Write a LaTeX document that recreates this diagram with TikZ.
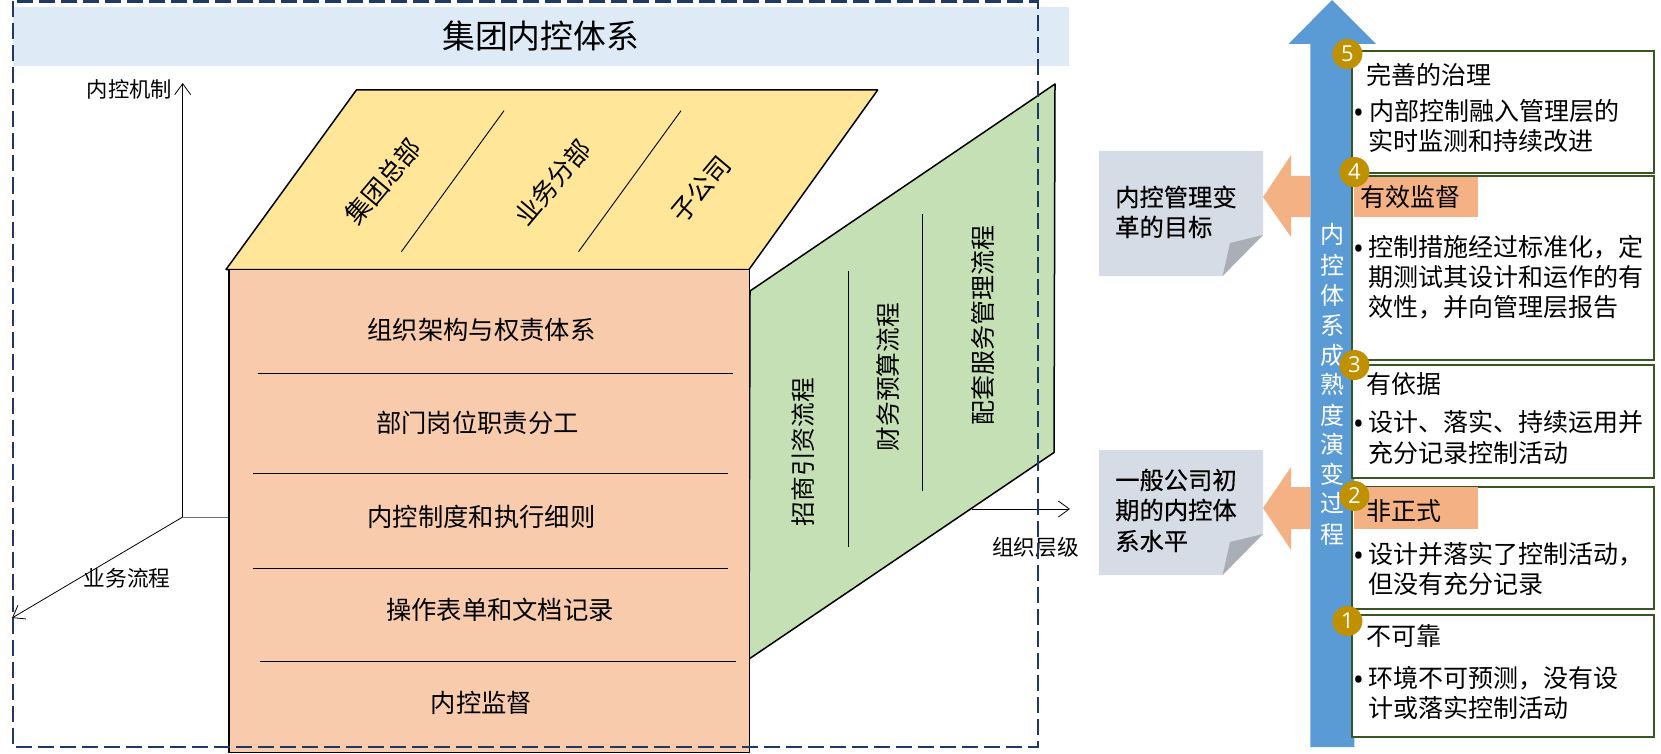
\documentclass[tikz,border=0pt]{standalone}
\usepackage{fontspec}
\setmainfont{Noto Sans CJK SC}
\newfontfamily\numfont{Open Sans}
\newfontfamily\notefont[FakeBold=0.35]{Noto Sans CJK SC}
\usetikzlibrary{arrows.meta}
\definecolor{framenavy}{RGB}{31, 56, 100}
\definecolor{titleblue}{RGB}{222, 234, 246}
\definecolor{topyellow}{RGB}{255, 230, 153}
\definecolor{frontpeach}{RGB}{247, 203, 172}
\definecolor{sidegreen}{RGB}{197, 224, 180}
\definecolor{bandorange}{RGB}{244, 177, 131}
\definecolor{shaftblue}{RGB}{91, 155, 213}
\definecolor{markgold}{RGB}{191, 144, 0}
\definecolor{boxgreen}{RGB}{56, 87, 35}
\definecolor{notegrey}{RGB}{214, 220, 229}
\definecolor{foldgrey}{RGB}{170, 174, 183}
\tikzset{
  zh/.style={
    inner sep=0pt,
    font=\fontsize{#1}{#1}\selectfont,
    text height=#1*0.88pt,
    text depth=#1*0.12pt
  },
  note text/.style={
    anchor=west,
    inner sep=0pt,
    font=\fontsize{24.3}{24.3}\notefont,
    text height=21.4pt,
    text depth=2.9pt
  },
  box text/.style={zh=25, anchor=west},
  bullet/.style={
    inner sep=0pt,
    font=\fontsize{30}{30}\numfont
  },
  level box/.style={
    draw=boxgreen,
    line width=2pt,
    fill=white,
    inner sep=0pt,
    minimum width=301.6pt
  },
  level mark/.style={
    circle,
    fill=markgold,
    text=white,
    inner sep=0pt,
    minimum size=30pt,
    font=\fontsize{22}{22}\numfont
  },
  band/.style={
    fill=bandorange,
    inner sep=0pt,
    minimum width=123.6pt
  },
  solid face/.style={
    draw=black,
    line width=1.5pt,
    line join=round
  },
  rule/.style={
    draw=black,
    line width=0.9pt
  },
  axis/.style={
    draw=black,
    line width=0.8pt,
    -{Straight Barb[length=11pt,width=16pt]}
  }
}
\begin{document}
\begin{tikzpicture}[x=1pt, y=-1pt]
  \useasboundingbox (0, 0) rectangle (1661, 754);

  \node[fill=titleblue, inner sep=0pt, minimum width=1056pt, minimum height=59pt] (titleband) at (541, 36.5) {};
  \node[zh=32.8] (title) at (540.7, 36.5) {集团内控体系};

  % axes
  \coordinate (origin) at (182.7, 517);
  \coordinate (mechtop) at (182.7, 83);
  \coordinate (flowend) at (12, 618);
  \coordinate (stubend) at (229, 517);
  \coordinate (levelstart) at (971.7, 509);
  \coordinate (levelend) at (1070, 509);
  \draw[axis] (origin) -- (mechtop);
  \draw[axis] (origin) -- (flowend);
  \draw[draw=black!55, line width=0.8pt] (origin) -- (stubend);
  \node[zh=21.3] (mechlabel) at (129.5, 89) {内控机制};
  \node[zh=21.7] (flowlabel) at (127, 578) {业务流程};

  % side face
  \coordinate (g1) at (750, 291);
  \coordinate (g2) at (1055, 84);
  \coordinate (g3) at (1054, 452.5);
  \coordinate (g4) at (749, 659);
  \draw[solid face, fill=sidegreen] (g1) -- (g2) -- (g3) -- (g4) -- cycle;
  \draw[axis] (levelstart) -- (levelend);
  \node[zh=21.7] (levellabel) at (1035.6, 547) {组织层级};

  % top face
  \coordinate (y1) at (226, 269.5);
  \coordinate (y2) at (356.4, 90);
  \coordinate (y3) at (877.7, 90);
  \coordinate (y4) at (749, 269.5);
  \draw[solid face, fill=topyellow] (y1) -- (y2) -- (y3) -- (y4) -- cycle;

  % front face
  \node[solid face, fill=frontpeach, inner sep=0pt, minimum width=520.5pt, minimum height=483pt] (front) at (489, 511) {};

  \foreach \rname/\xa/\ya/\xb/\yb in {
    ra/257.5/373/733/373, rb/252.7/473.3/728/473.3, rc/252.7/568.3/728/568.3, rd/260/661/736/661,
    re/401.4/251.7/504/110.7, rf/578.5/251.7/681/110.7,
    rg/848.3/547/848.3/270.7, rh/922.7/491/922.7/214} {
    \coordinate (\rname s) at (\xa, \ya);
    \coordinate (\rname e) at (\xb, \yb);
    \draw[rule] (\rname s) -- (\rname e);
  }

  \node[zh=25.3] (orgtext) at (481.5, 330) {组织架构与权责体系};
  \node[zh=25.3] (dutytext) at (477.5, 423.2) {部门岗位职责分工};
  \node[zh=25.3] (ruletext) at (481.5, 516.5) {内控制度和执行细则};
  \node[zh=25.3] (formtext) at (500, 609.5) {操作表单和文档记录};
  \node[zh=25.3] (audittext) at (481.5, 703) {内控监督};

  \node[zh=25.5, rotate=50] (hqtext) at (383, 181.7) {集团总部};
  \node[zh=25.5, rotate=50] (divtext) at (552.5, 182.4) {业务分部};
  \node[zh=25.5, rotate=50] (subtext) at (700.7, 189) {子公司};

  \node[zh=24.7, rotate=90] (fundtext) at (803, 452) {招商引资流程};
  \node[zh=24.7, rotate=90] (budgettext) at (888, 377) {财务预算流程};
  \node[zh=25, rotate=90] (servicetext) at (983, 325) {配套服务管理流程};

  \draw[draw=framenavy, line width=2.4pt, dash pattern=on 16pt off 6pt] (13, 1.5) rectangle (1037.7, 747);

  % maturity arrow
  \fill[shaftblue] (1332, 0) -- (1376, 44) -- (1354.4, 44) -- (1354.4, 747) -- (1310.4, 747) -- (1310.4, 44) -- (1288.5, 44) -- cycle;

  \fill[bandorange] (1263, 197) -- (1291, 155) -- (1291, 176) -- (1310.4, 176) -- (1310.4, 217) -- (1291, 217) -- (1291, 237) -- cycle;
  \fill[bandorange] (1263, 508) -- (1291, 467) -- (1291, 487) -- (1310.4, 487) -- (1310.4, 529) -- (1291, 529) -- (1291, 550) -- cycle;

  \foreach \cname/\cy in {goal/151, base/450} {
    \fill[notegrey] (1099, \cy) -- (1263, \cy) -- (1263, \cy+84) -- (1222.6, \cy+125) -- (1099, \cy+125) -- cycle;
    \fill[foldgrey] (1263, \cy+84) -- (1230, \cy+92) -- (1222.6, \cy+125) -- cycle;
  }
  \node[note text] (goalone) at (1115, 197) {内控管理变};
  \node[note text] (goaltwo) at (1115, 227) {革的目标};
  \node[note text] (baseone) at (1115, 480) {一般公司初};
  \node[note text] (basetwo) at (1115, 510) {期的内控体};
  \node[note text] (basethree) at (1115, 541) {系水平};

  \node[level box, minimum height=122pt] (boxfive) at (1502.8, 112) {};
  \node[level box, minimum height=184pt] (boxfour) at (1502.8, 268) {};
  \node[level box, minimum height=113pt] (boxthree) at (1502.8, 421.5) {};
  \node[level box, minimum height=122pt] (boxtwo) at (1502.8, 548) {};
  \node[level box, minimum height=122pt] (boxone) at (1502.8, 676) {};

  \node[band, minimum height=40pt] (bandfour) at (1416.2, 197) {};
  \node[band, minimum height=42pt] (bandtwo) at (1416.2, 508) {};

  \foreach \lname/\lx/\ly/\ltext in {
    la/1366/75/完善的治理, lb/1369/110.7/内部控制融入管理层的, lc/1368/140.7/实时监测和持续改进,
    ld/1360/197/有效监督, le/1368/247/控制措施经过标准化，定, lf/1368/277/期测试其设计和运作的有, lg/1368/307/效性，并向管理层报告,
    lh/1366/384/有依据, li/1368/422/设计、落实、持续运用并, lj/1368/453/充分记录控制活动,
    lk/1366/511/非正式, ll/1368/554/设计并落实了控制活动，, lm/1368/584/但没有充分记录,
    ln/1366/636/不可靠, lo/1368/678/环境不可预测，没有设, lp/1368/708/计或落实控制活动} {
    \node[box text] (\lname) at (\lx, \ly) {\ltext};
  }

  \foreach \bname/\by in {bfive/116, bfour/252.3, bthree/427.3, btwo/559.3, bone/683.3} {
    \node[bullet] (\bname) at (1358.5, \by) {•};
  }

  \foreach \vname/\vy/\vtext in {
    va/234/内, vb/265/控, vc/295/体, vd/325/系, ve/355/成, vf/384/熟,
    vg/415/度, vh/444/演, vi/474/变, vj/503/过, vk/534/程} {
    \node[zh=24, text=white] (\vname) at (1332, \vy) {\vtext};
  }

  \node[level mark] (markfive) at (1347.4, 54) {5};
  \node[level mark] (markfour) at (1354.4, 172) {4};
  \node[level mark] (markthree) at (1354.4, 365) {3};
  \node[level mark] (marktwo) at (1354.4, 496) {2};
  \node[level mark] (markone) at (1347.4, 621) {1};
\end{tikzpicture}
\end{document}
